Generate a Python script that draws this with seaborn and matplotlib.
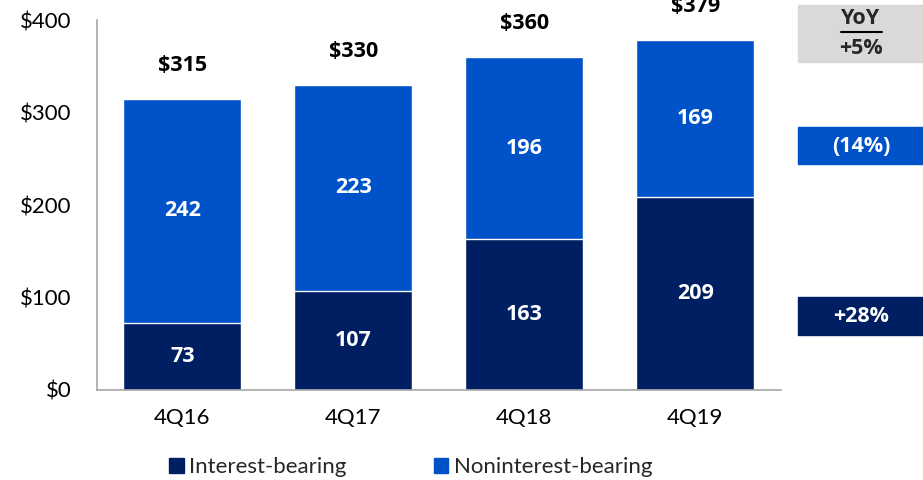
import matplotlib.pyplot as plt
import seaborn as sns
from matplotlib.lines import Line2D
from matplotlib.patches import Patch, Rectangle

quarters = ['4Q16', '4Q17', '4Q18', '4Q19']
interest = [73, 107, 163, 209]
noninterest = [242, 223, 196, 169]
totals = [315, 330, 360, 379]
yoy_labels = ['+5%', '(14%)', '+28%']

navy = '#001F62'
blue = '#0052C8'

sns.set_theme(style='white')
plt.rcParams['font.family'] = ['Lato', 'DejaVu Sans']
bold = dict(family=['Open Sans', 'DejaVu Sans'], fontweight='bold', fontsize=15.5)

fig = plt.figure(figsize=(9.23, 4.8), dpi=100)
ax = fig.add_axes([0.105, 0.1875, 0.741, 0.7705])

# total bar in light blue, interest-bearing drawn over the bottom part
sns.barplot(x=quarters, y=totals, color=blue, width=0.69, saturation=1, ax=ax)
sns.barplot(x=quarters, y=interest, color=navy, width=0.69, saturation=1, ax=ax)

for i in range(len(quarters)):
    ax.text(i, interest[i] / 2, str(interest[i]), ha='center', va='center',
            color='white', **bold)
    ax.text(i, interest[i] + noninterest[i] / 2, str(noninterest[i]), ha='center',
            va='center', color='white', **bold)
    ax.annotate(f'${totals[i]}', (i, totals[i]), xytext=(0, 24), textcoords='offset points',
                ha='center', va='center', color='black', annotation_clip=False, **bold)

ax.set_ylim(0, 400)
ax.set_xlim(-0.5, 3.5)
ax.set_yticks([0, 100, 200, 300, 400])
ax.set_yticklabels([f'${v}' for v in [0, 100, 200, 300, 400]])
ax.tick_params(axis='y', length=0, pad=18, labelsize=16, labelcolor='black')
ax.tick_params(axis='x', length=0, pad=13, labelsize=16, labelcolor='black')
for s in ['top', 'right']:
    ax.spines[s].set_visible(False)
for s in ['left', 'bottom']:
    ax.spines[s].set_color('#A6A6A6')
    ax.spines[s].set_linewidth(1.2)

# YoY boxes on the right
W, H = 923, 480
def box(y0, y1, color):
    fig.patches.append(Rectangle((798 / W, 1 - y1 / H), (W - 798) / W, (y1 - y0) / H,
                                 transform=fig.transFigure, color=color, zorder=0))

box(5, 62, '#D9D9D9')
box(127, 164, blue)
box(297, 335, navy)
fig.text(861 / W, 1 - 19 / H, 'YoY', ha='center', va='center', **bold)
fig.lines.append(Line2D([841 / W, 882 / W], [1 - 32 / H, 1 - 32 / H], transform=fig.transFigure,
                        color='black', lw=1.5))
fig.text(861 / W, 1 - 48 / H, yoy_labels[0], ha='center', va='center', **bold)
fig.text(861 / W, 1 - 146 / H, yoy_labels[1], ha='center', va='center', color='white', **bold)
fig.text(861 / W, 1 - 317 / H, yoy_labels[2], ha='center', va='center', color='white', **bold)

handles = [Patch(color=navy, label='Interest-bearing'), Patch(color=blue, label='Noninterest-bearing')]
fig.legend(handles=handles, loc='center', bbox_to_anchor=(0.445, 1 - 467 / H), ncol=2,
           frameon=False, fontsize=16, handlelength=0.65, handleheight=0.65,
           handletextpad=0.25, columnspacing=3.9)

fig.savefig('out.png', dpi=100)
